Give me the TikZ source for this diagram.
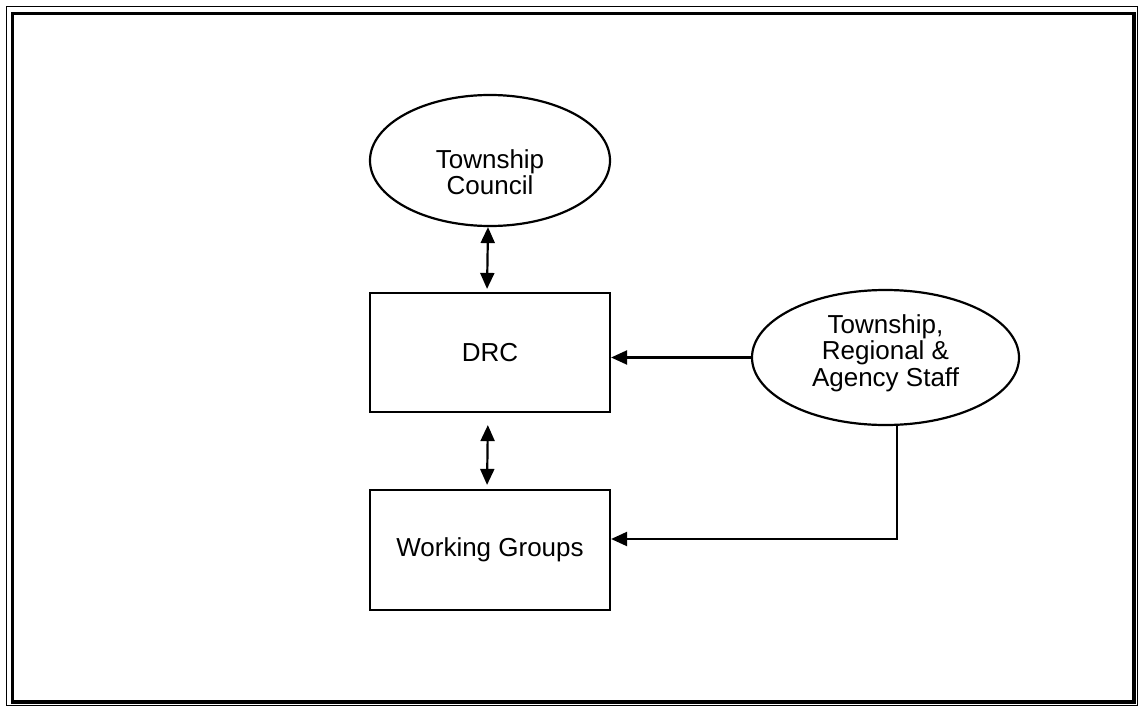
\documentclass[tikz,border=0pt]{standalone}
\usepackage{fontspec}
\setmainfont{Liberation Sans}
\usetikzlibrary{arrows.meta, shapes.geometric}

\begin{document}
\begin{tikzpicture}[x=0.5pt, y=-0.5pt, >={Triangle[length=8pt, width=7pt]},
    box/.style={draw, line width=1.1pt, minimum width=120pt, minimum height=60pt,
        inner sep=0pt, font=\fontsize{13}{13.2}\selectfont},
    oval/.style={ellipse, draw, line width=1.1pt, inner sep=0pt},
    txt/.style={align=center, inner sep=0pt, font=\fontsize{13}{13.2}\selectfont},
    link/.style={line width=1.1pt}]

    % =================================================================
    % 1. KHUNG VIỀN KÉP
    % =================================================================
    \useasboundingbox (0,0) rectangle (1140,706);
    \draw[line width=0.6pt] (6.5,6.5) rectangle (1137.5,705.3);
    \draw[line width=1.6pt] (12.8,13.6) rectangle (1134,702);

    % =================================================================
    % 2. CÁC KHỐI (ELLIPSE VÀ HÌNH CHỮ NHẬT)
    % =================================================================
    \node[oval, minimum width=120pt, minimum height=65.5pt] (Council) at (490,160.5) {};
    \node[txt, yshift=-6pt] (CouncilText) at (Council) {Township\\Council};

    \node[box, minimum height=59.5pt] (DRC) at (490,352.5) {DRC};
    \node[box] (Groups) at (490,550) {Working Groups};

    \node[oval, minimum width=133.5pt, minimum height=67.5pt] (Staff) at (885.5,357.5) {};
    \node[txt, yshift=2.2pt] (StaffText) at (Staff) {Township,\\Regional \&\\Agency Staff};

    % Điểm gấp của đường nối bên phải
    \coordinate (Bend) at (897,539);

    % =================================================================
    % 3. CÁC MŨI TÊN NỐI
    % =================================================================
    \draw[link, <->, shorten >=1.5pt] ([xshift=-1pt]Council.south) -- ([xshift=-1.5pt]DRC.north);
    \draw[link, <->, shorten <=6pt, shorten >=2pt] ([xshift=-1pt]DRC.south) -- ([xshift=-1.5pt]Groups.north);

    \draw[link, ->] (Staff.west) -- (DRC.east |- Staff.west);
    \draw[link, ->] (Bend |- Staff.south) -- (Bend) -- (Groups.east |- Bend);

\end{tikzpicture}
\end{document}
